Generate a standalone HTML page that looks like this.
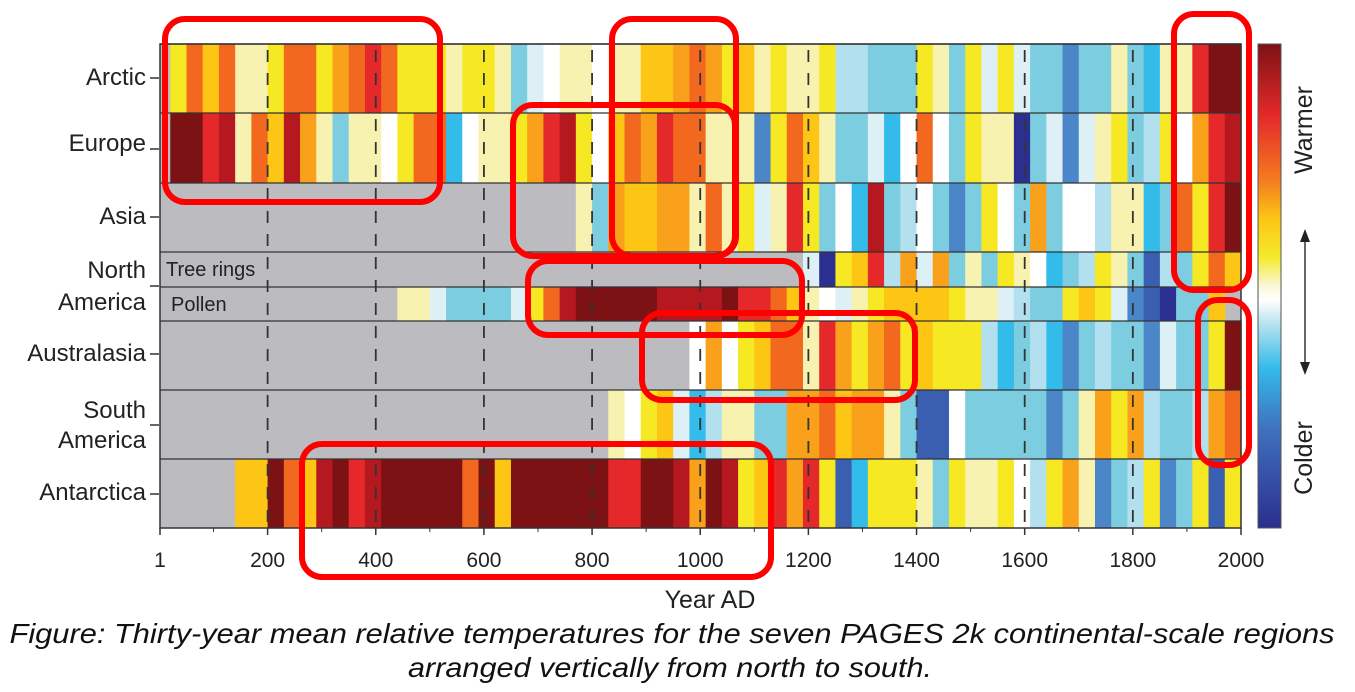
<!DOCTYPE html>
<html><head><meta charset="utf-8"><style>
html,body{margin:0;padding:0;background:#fff;width:1355px;height:692px;overflow:hidden}
svg{display:block}
text{font-family:"Liberation Sans",Arial,sans-serif}
</style></head><body>
<svg id="chart" width="1355" height="692" viewBox="0 0 1355 692" xmlns="http://www.w3.org/2000/svg">
<defs>
<linearGradient id="cbar" x1="0" y1="0" x2="0" y2="1">
<stop offset="0" stop-color="#7d1215"/><stop offset="0.15" stop-color="#e52a2a"/><stop offset="0.28" stop-color="#f47a20"/><stop offset="0.36" stop-color="#fdc514"/><stop offset="0.44" stop-color="#f5ea2a"/><stop offset="0.5" stop-color="#fbf7d8"/><stop offset="0.53" stop-color="#ffffff"/><stop offset="0.58" stop-color="#b5e2ee"/><stop offset="0.67" stop-color="#33bbea"/><stop offset="0.8" stop-color="#3f6fbd"/><stop offset="1" stop-color="#2b2f8f"/>
</linearGradient>
</defs>
<g id="cells"></g>
<g id="overlay"></g>
</svg>
<script>
// 30-year bins (66 bins, years ~20-2000); scale -7 (coldest) .. 8 (warmest); null = no data
const regions = ["Arctic","Europe","Asia","NA tree rings","NA pollen","Australasia","South America","Antarctica"];
const arctic = [2,5,3,5,1,1,2,5,5,2,4,5,6,5,2,2,2,1,2,2,1,-3,-1,0,1,1,0,1,1,3,3,4,5,4,2,3,1,2,1,1,2,-2,-2,-3,-3,-3,2,1,-3,2,-1,2,-1,-3,-3,-5,-3,-3,1,-3,-4,1,1,6,8,8];
const europe = [8,8,6,7,1,5,3,7,4,1,-3,1,1,0,2,5,5,-4,0,1,1,2,4,6,7,2,0,3,5,4,6,5,5,1,1,1,-5,2,5,3,1,-3,-3,-1,-4,0,5,0,-3,2,1,1,-7,-3,-1,-5,-1,1,2,-3,-2,2,0,4,6,7];
const asia = [null,null,null,null,null,null,null,null,null,null,null,null,null,null,null,null,null,null,null,null,null,null,null,null,null,1,-3,4,3,3,4,4,1,5,1,2,-1,1,6,2,-3,0,-4,7,-3,-2,0,-3,-5,-3,2,0,-3,4,-3,0,0,-2,1,1,-4,-3,5,2,6,8];
const naTree = [null,null,null,null,null,null,null,null,null,null,null,null,null,null,null,null,null,null,null,null,null,null,null,null,null,null,null,null,null,null,null,null,null,null,null,null,null,null,null,-1,-7,2,3,6,-2,4,-1,4,-3,1,-3,2,1,0,-4,-3,-2,2,1,-3,-6,-2,-3,2,5,3];
const naPollen = [null,null,null,null,null,null,null,null,null,null,null,null,null,null,1,1,-1,-3,-3,-3,-3,-1,2,5,7,8,8,8,8,8,7,7,7,7,8,6,6,5,3,1,0,-1,1,2,3,3,3,3,2,1,1,-1,-2,-3,-3,2,3,2,-1,-5,-6,-7,-3,-3,3,null];
const australasia = [null,null,null,null,null,null,null,null,null,null,null,null,null,null,null,null,null,null,null,null,null,null,null,null,null,null,null,null,null,null,null,null,0,4,0,2,3,5,5,1,6,4,2,4,5,2,3,2,2,2,-2,-4,-3,-2,-4,-5,-3,-2,-3,-3,-5,-1,-3,-3,2,8];
const southAmerica = [null,null,null,null,null,null,null,null,null,null,null,null,null,null,null,null,null,null,null,null,null,null,null,null,null,null,null,1,0,2,3,-1,-4,-2,1,1,-3,-3,4,4,5,3,4,4,1,-3,-6,-6,0,-3,-3,-3,-3,-3,-5,-3,1,4,2,4,-2,-3,-3,-2,4,5];
const antarctica = [null,null,null,null,3,3,8,5,3,7,8,6,7,8,8,8,8,8,5,8,3,8,8,8,8,8,8,6,6,8,8,7,4,8,7,2,3,6,4,6,2,-6,-4,2,2,2,1,-3,2,1,1,2,0,-2,2,4,1,-5,-3,-2,2,-5,-3,2,-6,2];
const xTicks = [1,200,400,600,800,1000,1200,1400,1600,1800,2000];
const binStart = 20, binYears = 30;

const palette = {"-7":"#2b2f8f","-6":"#3a5fb0","-5":"#4a86c8","-4":"#33bbea","-3":"#7dcde0","-2":"#b3e0ee","-1":"#dcf0f5","0":"#ffffff","1":"#f8f2b0","2":"#f6e823","3":"#fdc514","4":"#f9a11b","5":"#f2681f","6":"#e5292a","7":"#b5181f","8":"#7d1215"};
const NS="http://www.w3.org/2000/svg";
const x0=160,x1=1241;
function xs(year){return x0+(year-1)*(x1-x0)/1999;}
const rowY=[[44,113],[113,183],[183,252],[252,287],[287,321],[321,390],[390,459],[459,528]];
const series=[arctic,europe,asia,naTree,naPollen,australasia,southAmerica,antarctica];
const cells=document.getElementById('cells');
const ov=document.getElementById('overlay');
function mk(tag,attrs,parent){const e=document.createElementNS(NS,tag);for(const k in attrs)e.setAttribute(k,attrs[k]);(parent||cells).appendChild(e);return e;}

const bg=mk('rect',{x:x0,y:44,width:x1-x0,height:484,fill:'#bcbcc0'});



series.forEach((arr,r)=>{
  arr.forEach((v,i)=>{
    if(v===null)return;
    const a=xs(binStart+i*binYears), b=xs(binStart+(i+1)*binYears);
    const c=mk('rect',{x:a.toFixed(2),y:rowY[r][0],width:(b-a+0.6).toFixed(2),height:rowY[r][1]-rowY[r][0],fill:palette[String(v)]});
    
    
  });
});

rowY.forEach((ry,r)=>{
  const l=mk('line',{x1:x0,x2:x1,y1:ry[0],y2:ry[0],stroke:'#333',"stroke-width":1.3},ov);
  
  
});
mk('rect',{x:x0,y:44,width:x1-x0,height:484,fill:'none',stroke:'#333',"stroke-width":1.5},ov);

xTicks.slice(1,-1).forEach(t=>{
  const g=mk('line',{x1:xs(t),x2:xs(t),y1:50,y2:528,stroke:'#333',"stroke-width":1.8,"stroke-dasharray":"12 11"},ov);
  
  
});
xTicks.forEach(t=>{
  mk('line',{x1:xs(t),x2:xs(t),y1:528,y2:535,stroke:'#333',"stroke-width":1.5},ov);
  const tx=mk('text',{x:xs(t),y:567,"text-anchor":"middle","font-size":21,fill:'#222'},ov);
  tx.textContent=String(t);
  
  
});
for(let t=100;t<2000;t+=100){ if(t%200) mk('line',{x1:xs(t),x2:xs(t),y1:528,y2:532,stroke:'#333',"stroke-width":1},ov); }
</script>
<script>
(function(){
const NS="http://www.w3.org/2000/svg";
const ov=document.getElementById('overlay');
function mk(tag,attrs){const e=document.createElementNS(NS,tag);for(const k in attrs)e.setAttribute(k,attrs[k]);ov.appendChild(e);return e;}
const labels=[["Arctic",[77],78],["Europe",[143],149],["Asia",[216],217],["North|America",[270,302],286],["Australasia",[353],354],["South|America",[410,440],425],["Antarctica",[492],494]];
labels.forEach(l=>{
  const parts=l[0].split('|');
  parts.forEach((p,i)=>{
    const t=mk('text',{x:146,y:l[1][i]+8,"text-anchor":"end","font-size":24,fill:'#222'});
    t.textContent=p;
    
    
  });
  mk('line',{x1:150,x2:159,y1:l[2],y2:l[2],stroke:'#333',"stroke-width":1.5});
});
const a=mk('text',{x:166,y:276,"font-size":20,fill:'#222'});a.textContent='Tree rings';


const b=mk('text',{x:171,y:311,"font-size":20,fill:'#222'});b.textContent='Pollen';


const xt=mk('text',{x:710,y:608,"text-anchor":"middle","font-size":25,fill:'#222'});xt.textContent='Year AD';


const cb=mk('rect',{x:1258,y:44,width:23,height:484,fill:'url(#cbar)',stroke:'#555',"stroke-width":1});


const w=mk('text',{x:0,y:0,"text-anchor":"middle","font-size":25,fill:'#222',transform:'translate(1312,130) rotate(-90)'});w.textContent='Warmer';


const c=mk('text',{x:0,y:0,"text-anchor":"middle","font-size":25,fill:'#222',transform:'translate(1312,458) rotate(-90)'});c.textContent='Colder';


mk('line',{x1:1305,x2:1305,y1:238,y2:366,stroke:'#333',"stroke-width":1.5});
mk('path',{d:'M1300,242 L1305,229 L1310,242 Z',fill:'#222'});
mk('path',{d:'M1300,362 L1305,375 L1310,362 Z',fill:'#222'});
const boxes=[[165,19,275,183],[612,19,124,237],[1174,14,75,276],[513,105,222,151],[528,261,274,74],[642,313,273,87],[1198,300,51,165],[302,444,469,133]];
boxes.forEach(bx=>{
  const r=mk('rect',{x:bx[0],y:bx[1],width:bx[2],height:bx[3],rx:20,ry:20,fill:'none',stroke:'#ff0000',"stroke-width":6});
  
  
});
const cap1=mk('text',{x:672,y:643,"text-anchor":"middle","font-size":28,"font-style":"italic",fill:'#111',textLength:1325,lengthAdjust:'spacingAndGlyphs'});
cap1.textContent='Figure: Thirty-year mean relative temperatures for the seven PAGES 2k continental-scale regions';


const cap2=mk('text',{x:670,y:677,"text-anchor":"middle","font-size":28,"font-style":"italic",fill:'#111',textLength:524,lengthAdjust:'spacingAndGlyphs'});
cap2.textContent='arranged vertically from north to south.';


})();
</script>
</body></html>
